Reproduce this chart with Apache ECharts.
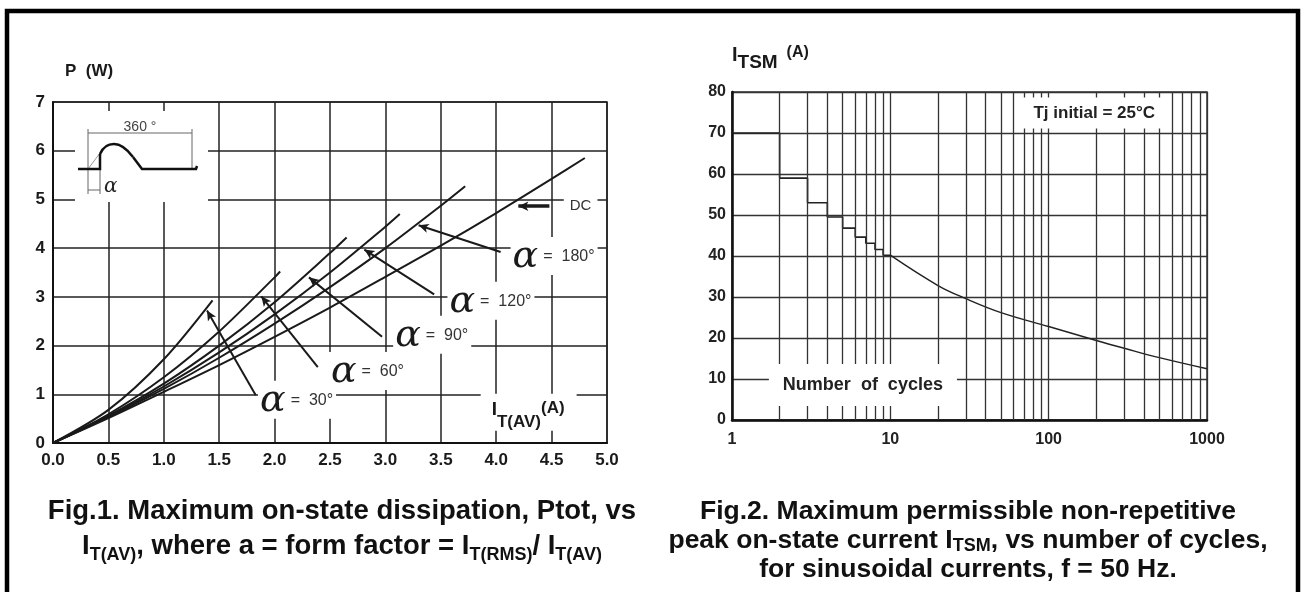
<!DOCTYPE html>
<html>
<head>
<meta charset="utf-8">
<script src="https://cdn.jsdelivr.net/npm/echarts@6.0.0/dist/echarts.min.js"></script>
<style>
  html, body { margin: 0; padding: 0; background: #fff; }
  #chart { width: 1301px; height: 592px; }
</style>
</head>
<body>
<div id="chart"></div>
<script>
// Fig.1 : P (W) vs I_T(AV) (A), one curve per conduction angle
const iDC = [0, 0.5, 1, 1.5, 2, 2.5, 3, 3.5, 4, 4.5, 4.8]
const pDC = [0, 0.51, 1.05, 1.6, 2.18, 2.78, 3.41, 4.05, 4.72, 5.42, 5.85]
const i180 = [0, 0.5, 1, 1.5, 2, 2.5, 3, 3.5, 3.72]
const p180 = [0, 0.53, 1.11, 1.75, 2.45, 3.2, 4.0, 4.87, 5.27]
const i120 = [0, 0.5, 1, 1.5, 2, 2.5, 3, 3.13]
const p120 = [0, 0.54, 1.16, 1.86, 2.64, 3.5, 4.44, 4.7]
const i90 = [0, 0.5, 1, 1.5, 2, 2.5, 2.65]
const p90 = [0, 0.56, 1.22, 2.0, 2.89, 3.9, 4.22]
const i60 = [0, 0.5, 1, 1.5, 2, 2.05]
const p60 = [0, 0.59, 1.35, 2.29, 3.4, 3.52]
const i30 = [0, 0.5, 1, 1.44]
const p30 = [0, 0.68, 1.72, 2.93]

// Fig.2 : I_TSM (A) vs number of cycles
const cyclesStep = [1, 2, 3, 4, 5, 6, 7, 8, 9, 10]
const itsmStep = [70, 59, 53, 49.5, 46.8, 44.6, 43.1, 41.6, 40.2, 40.2]
const cyclesCurve = [10, 20, 30, 50, 100, 200, 300, 500, 1000]
const itsmCurve = [40.2, 32.8, 29.6, 26.2, 22.8, 19.4, 17.5, 15.2, 12.5]
const minorCycles = [2, 3, 4, 5, 6, 7, 8, 9, 20, 30, 40, 50, 60, 70, 80, 90, 200, 300, 400, 500, 600, 700, 800, 900]

// annotations (data coordinates)
const alphaLabels = [
  { text: '30°', at: [1.85, 0.89] },
  { text: '60°', at: [2.49, 1.48] },
  { text: '90°', at: [3.07, 2.22] },
  { text: '120°', at: [3.56, 2.92] },
  { text: '180°', at: [4.13, 3.84] }
]
const alphaArrows = [
  [[1.83, 0.98], [1.39, 2.72]],
  [[2.39, 1.56], [1.88, 3.01]],
  [[2.97, 2.18], [2.31, 3.40]],
  [[3.44, 3.05], [2.81, 3.97]],
  [[4.04, 3.92], [3.30, 4.47]]
]

const SANS = 'Liberation Sans, Arial, sans-serif'
const INK = '#1a1a1a'

const zip = (xs, ys) => xs.map((x, i) => [x, ys[i]])

const curve = (name, xs, ys) => ({
  name: name,
  type: 'line',
  xAxisIndex: 0,
  yAxisIndex: 0,
  data: zip(xs, ys),
  smooth: 0.3,
  showSymbol: false,
  lineStyle: { color: INK, width: 2 },
  z: 3
})

const chart = echarts.init(document.getElementById('chart'))

const option = {
  animation: false,
  backgroundColor: '#fff',
  grid: [
    { left: 53, top: 102, width: 554, height: 341, show: true, borderColor: '#222', borderWidth: 1.5 },
    { left: 732, top: 92, width: 475, height: 328, show: true, borderColor: '#333', borderWidth: 1.5 }
  ],
  xAxis: [
    {
      gridIndex: 0, type: 'value', min: 0, max: 5, interval: 0.5,
      axisLine: { lineStyle: { color: '#111', width: 2 } },
      axisTick: { show: false },
      splitLine: { lineStyle: { color: '#222', width: 1.5 } },
      axisLabel: { formatter: (v) => v.toFixed(1), color: INK, fontFamily: SANS, fontWeight: 'bold', fontSize: 17, margin: 9 }
    },
    {
      gridIndex: 1, type: 'log', logBase: 10, min: 1, max: 1000,
      axisLine: { lineStyle: { color: '#111', width: 2.5 } },
      axisTick: { show: false },
      splitLine: { lineStyle: { color: '#333', width: 1.3 } },
      axisLabel: { formatter: (v) => String(Math.round(v)), color: '#222', fontFamily: SANS, fontWeight: 'bold', fontSize: 16, margin: 12 }
    }
  ],
  yAxis: [
    {
      gridIndex: 0, type: 'value', min: 0, max: 7, interval: 1,
      name: 'P  (W)', nameGap: 22,
      nameTextStyle: { align: 'left', padding: [0, 0, 0, 12], color: INK, fontFamily: SANS, fontWeight: 'bold', fontSize: 17 },
      axisLine: { show: true, lineStyle: { color: '#111', width: 2 } },
      axisTick: { show: false },
      splitLine: { lineStyle: { color: '#222', width: 1.5 } },
      axisLabel: { color: INK, fontFamily: SANS, fontWeight: 'bold', fontSize: 17, margin: 8 }
    },
    {
      gridIndex: 1, type: 'value', min: 0, max: 80, interval: 10,
      name: '{i|I}{s|TSM}{a|  (A)}', nameGap: 20,
      nameTextStyle: {
        align: 'left', padding: [0, 0, 0, 0],
        rich: {
          i: { fontFamily: SANS, fontWeight: 'bold', fontSize: 20, color: INK, lineHeight: 20, verticalAlign: 'top' },
          s: { fontFamily: SANS, fontWeight: 'bold', fontSize: 19, color: INK, lineHeight: 27, verticalAlign: 'bottom' },
          a: { fontFamily: SANS, fontWeight: 'bold', fontSize: 16, color: INK, lineHeight: 20, verticalAlign: 'top' }
        }
      },
      axisLine: { show: true, lineStyle: { color: '#111', width: 2.5 } },
      axisTick: { show: false },
      splitLine: { lineStyle: { color: '#333', width: 1.3 } },
      axisLabel: { color: '#222', fontFamily: SANS, fontWeight: 'bold', fontSize: 16, margin: 6 }
    }
  ],
  series: [
    curve('30', i30, p30),
    curve('60', i60, p60),
    curve('90', i90, p90),
    curve('120', i120, p120),
    curve('180', i180, p180),
    curve('DC', iDC, pDC),
    {
      name: 'fig1-notes',
      type: 'line',
      xAxisIndex: 0,
      yAxisIndex: 0,
      data: [],
      z: 10,
      markLine: {
        silent: true,
        symbol: ['none', 'arrow'],
        symbolSize: [7, 10],
        label: { show: false },
        lineStyle: { color: INK, width: 2, type: 'solid' },
        data: alphaArrows.map((a) => [{ coord: a[0] }, { coord: a[1] }])
          .concat([[{ coord: [4.48, 4.86], lineStyle: { width: 3.5 } }, { coord: [4.2, 4.86], lineStyle: { width: 3.5 } }]])
      },
      markPoint: {
        silent: true,
        symbol: 'circle',
        symbolSize: 0,
        label: {
          show: true,
          position: 'right',
          distance: 0,
          backgroundColor: '#fff',
          padding: [2, 3, 0, 2],
          rich: {
            a: { fontFamily: 'DejaVu Serif', fontStyle: 'italic', fontSize: 38, color: INK, lineHeight: 36 },
            t: { fontFamily: SANS, fontSize: 16, color: '#333', padding: [0, 0, 0, 5] },
            i: { fontFamily: SANS, fontWeight: 'bold', fontSize: 19, color: INK, lineHeight: 20, verticalAlign: 'top' },
            s: { fontFamily: SANS, fontWeight: 'bold', fontSize: 17, color: INK, lineHeight: 31, verticalAlign: 'bottom' },
            p: { fontFamily: SANS, fontWeight: 'bold', fontSize: 17, color: INK, lineHeight: 20, verticalAlign: 'top' },
            d: { fontFamily: SANS, fontSize: 15, color: '#333' }
          }
        },
        data: alphaLabels.map((l) => ({ coord: l.at, label: { formatter: '{a|α}{t|=  ' + l.text + '}' } }))
          .concat([
            { coord: [4.61, 4.86], label: { formatter: '{d|DC}', padding: [2, 6] } },
            { coord: [3.86, 0.63], label: { formatter: '{i|I}{s|T(AV)}{p|(A)}', padding: [6, 12, 0, 11] } }
          ])
      }
    },
    {
      name: 'steps',
      type: 'line',
      xAxisIndex: 1,
      yAxisIndex: 1,
      data: zip(cyclesStep, itsmStep),
      step: 'end',
      showSymbol: false,
      lineStyle: { color: '#222', width: 1.6 },
      z: 3,
      markLine: {
        silent: true,
        symbol: 'none',
        label: { show: false },
        lineStyle: { color: '#333', width: 1.3, type: 'solid' },
        data: minorCycles.map((c) => ({ xAxis: c }))
      }
    },
    {
      name: 'decay',
      type: 'line',
      xAxisIndex: 1,
      yAxisIndex: 1,
      data: zip(cyclesCurve, itsmCurve),
      smooth: 0.4,
      showSymbol: false,
      lineStyle: { color: '#222', width: 1.4 },
      z: 3
    },
    {
      name: 'fig2-notes',
      type: 'line',
      xAxisIndex: 1,
      yAxisIndex: 1,
      data: [],
      z: 10,
      markPoint: {
        silent: true,
        symbol: 'circle',
        symbolSize: 0,
        label: {
          show: true,
          position: 'inside',
          backgroundColor: '#fff',
          fontFamily: SANS,
          fontWeight: 'bold',
          color: '#222'
        },
        data: [
          { coord: [194, 74.9], label: { formatter: 'Tj initial = 25°C', fontSize: 17, padding: [7, 12] } },
          { coord: [6.71, 8.54], label: { formatter: 'Number  of  cycles', fontSize: 18, padding: [12, 14] } }
        ]
      }
    }
  ],
  graphic: [
    // outer frame
    { type: 'rect', shape: { x: 7, y: 11, width: 1291, height: 610 }, style: { fill: 'none', stroke: '#000', lineWidth: 4.5 }, z: 20 },
    // waveform inset
    { type: 'rect', shape: { x: 75, y: 111, width: 133, height: 91 }, style: { fill: '#fff' }, z: 20 },
    { type: 'polyline', shape: { points: [[88, 133], [192, 133]] }, style: { stroke: '#666', lineWidth: 1 }, z: 21 },
    { type: 'polyline', shape: { points: [[88, 129], [88, 194]] }, style: { stroke: '#666', lineWidth: 1 }, z: 21 },
    { type: 'polyline', shape: { points: [[192, 129], [192, 168]] }, style: { stroke: '#666', lineWidth: 1 }, z: 21 },
    { type: 'polyline', shape: { points: [[88, 190], [100, 190]] }, style: { stroke: '#666', lineWidth: 1 }, z: 21 },
    { type: 'polyline', shape: { points: [[100, 169], [100, 194]] }, style: { stroke: '#666', lineWidth: 1 }, z: 21 },
    { type: 'polyline', shape: { points: [[88, 169], [100, 153]] }, style: { stroke: '#999', lineWidth: 1 }, z: 21 },
    { type: 'polyline', shape: { points: [[78, 169], [100, 169], [100, 154]] }, style: { stroke: '#111', lineWidth: 2.5 }, z: 22 },
    { type: 'bezierCurve', shape: { x1: 100, y1: 154, cpx1: 103, cpy1: 147, cpx2: 108, cpy2: 144, x2: 114, y2: 144 }, style: { fill: 'none', stroke: '#111', lineWidth: 2.5 }, z: 22 },
    { type: 'bezierCurve', shape: { x1: 114, y1: 144, cpx1: 121, cpy1: 144, cpx2: 127, cpy2: 149, x2: 133, y2: 157 }, style: { fill: 'none', stroke: '#111', lineWidth: 2.5 }, z: 22 },
    { type: 'polyline', shape: { points: [[133, 157], [142, 169], [196, 169], [197, 166]] }, style: { stroke: '#111', lineWidth: 2.5 }, z: 22 },
    { type: 'text', x: 140, y: 127, z: 22, style: { text: '360 °', fill: '#444', font: '14px Liberation Sans', align: 'center', verticalAlign: 'middle' } },
    { type: 'text', x: 104, y: 187, z: 22, style: { text: 'α', fill: '#222', font: 'italic 20px DejaVu Serif', align: 'left', verticalAlign: 'middle' } },
    // captions
    {
      type: 'text', x: 342, y: 529, z: 22,
      style: {
        text: '{b|Fig.1. Maximum on-state dissipation, Ptot, vs}\n{b|I}{s|T(AV)}{b|, where a = form factor = I}{s|T(RMS)}{b|/ I}{s|T(AV)}',
        align: 'center', verticalAlign: 'middle',
        rich: {
          b: { fontFamily: SANS, fontWeight: 'bold', fontSize: 27.5, lineHeight: 35, fill: '#111' },
          s: { fontFamily: SANS, fontWeight: 'bold', fontSize: 18, lineHeight: 21, verticalAlign: 'bottom', fill: '#111' }
        }
      }
    },
    {
      type: 'text', x: 968, y: 541, z: 22,
      style: {
        text: '{b|Fig.2. Maximum permissible non-repetitive}\n{b|peak on-state current I}{s|TSM}{b|, vs number of cycles,}\n{b|for sinusoidal currents, f = 50 Hz.}',
        align: 'center', verticalAlign: 'middle',
        rich: {
          b: { fontFamily: SANS, fontWeight: 'bold', fontSize: 26.5, lineHeight: 29, fill: '#111' },
          s: { fontFamily: SANS, fontWeight: 'bold', fontSize: 18, lineHeight: 18, verticalAlign: 'bottom', fill: '#111' }
        }
      }
    }
  ]
}

chart.setOption(option)
</script>
</body>
</html>
